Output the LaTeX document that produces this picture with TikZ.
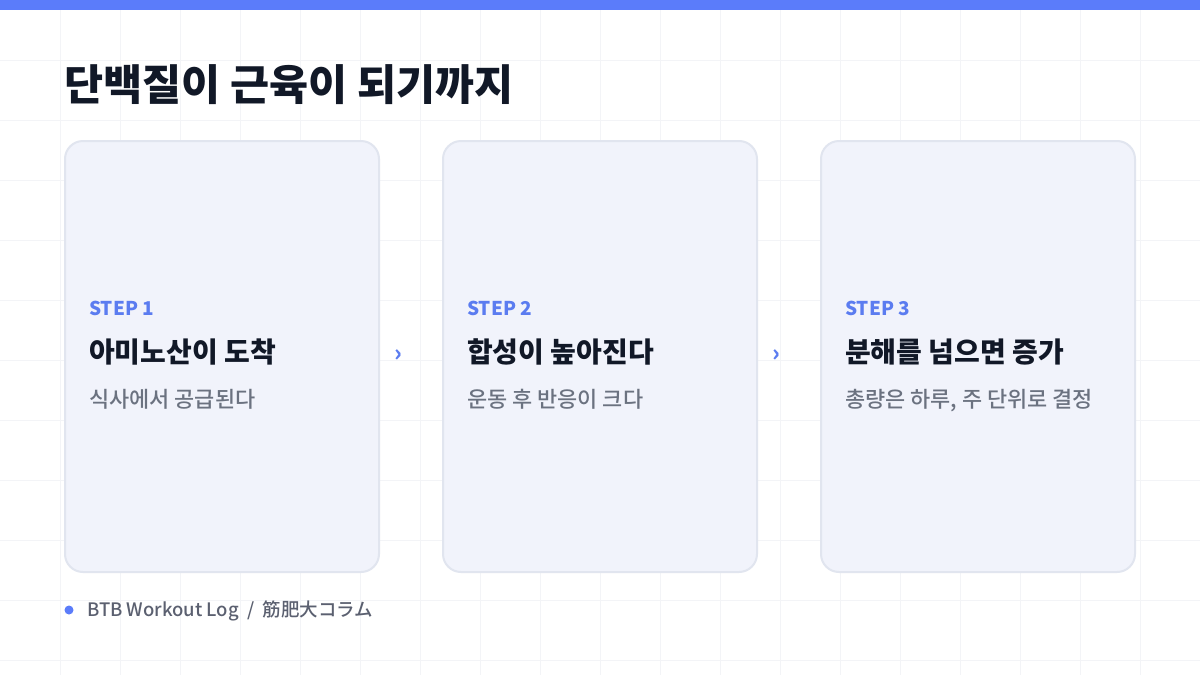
\documentclass[tikz,border=0pt]{standalone}
\usepackage{fontspec}
\setmainfont{Noto Sans CJK KR}
\newfontfamily\medfont{Noto Sans CJK KR Medium}
\newfontfamily\jpmed{Noto Sans CJK JP Medium}
\definecolor{barblue}{HTML}{5B7CFA}
\definecolor{stepblue}{HTML}{5B7CF0}
\definecolor{gridc}{HTML}{F3F4F7}
\definecolor{cardfill}{HTML}{F1F3FB}
\definecolor{cardline}{HTML}{E1E5EF}
\definecolor{titlec}{HTML}{111827}
\definecolor{subc}{HTML}{6B7280}
\definecolor{footc}{HTML}{5B6070}
\tikzset{
  card/.style={draw=cardline, line width=2pt, fill=cardfill, rounded corners=18pt,
    minimum width=314pt, minimum height=431pt, inner sep=0pt},
  steplabel/.style={anchor=base west, inner sep=0pt, text=stepblue, font=\fontsize{19}{22}\selectfont\bfseries},
  stephead/.style={anchor=base west, inner sep=0pt, text=titlec, font=\fontsize{28}{32}\selectfont\bfseries},
  stepsub/.style={anchor=base west, inner sep=0pt, text=subc, font=\medfont\fontsize{21.9}{25}\selectfont},
  chev/.style={inner sep=0pt, text=stepblue, font=\fontsize{23}{25}\selectfont\bfseries},
}
\begin{document}
\begin{tikzpicture}[x=1pt,y=-1pt]
\useasboundingbox (0,0) rectangle (1200,675);
\fill[white] (0,0) rectangle (1200,675);
% grid
\foreach \i in {1,...,19} \draw[gridc, line width=1pt] (\i*60,0) -- (\i*60,675);
\foreach \j in {1,...,11} \draw[gridc, line width=1pt] (0,\j*60) -- (1200,\j*60);
% top bar
\fill[barblue] (0,0) rectangle (1200,10);
% title
\node[anchor=base west, inner sep=0pt, text=titlec, font=\fontsize{42.5}{48}\selectfont\bfseries] (title) at (64,100) {단백질이 근육이 되기까지};
% cards
\node[card] (card1) at (222,356.5) {};
\node[card] (card2) at (600,356.5) {};
\node[card] (card3) at (978,356.5) {};
% card texts
\node[steplabel] (s1) at (89,315) {STEP 1};
\node[stephead] (h1) at (89,362.5) {아미노산이 도착};
\node[stepsub] (d1) at (89,407.5) {식사에서 공급된다};
\node[steplabel] (s2) at (467,315) {STEP 2};
\node[stephead] (h2) at (467,362.5) {합성이 높아진다};
\node[stepsub] (d2) at (467,407.5) {운동 후 반응이 크다};
\node[steplabel] (s3) at (845,315) {STEP 3};
\node[stephead] (h3) at (845,362.5) {분해를 넘으면 증가};
\node[stepsub] (d3) at (845,407.5) {총량은 하루, 주 단위로 결정};
% chevrons
\node[chev] (c1) at (398,356) {›};
\node[chev] (c2) at (776,356) {›};
% footer
\fill[barblue] (69,610) circle (4.5pt);
\node[anchor=base west, inner sep=0pt, text=footc, font=\medfont\fontsize{18.5}{21}\selectfont] (foot) at (87,616) {BTB Workout Log \ / \ {\jpmed 筋肥大コラム}};
\end{tikzpicture}
\end{document}
